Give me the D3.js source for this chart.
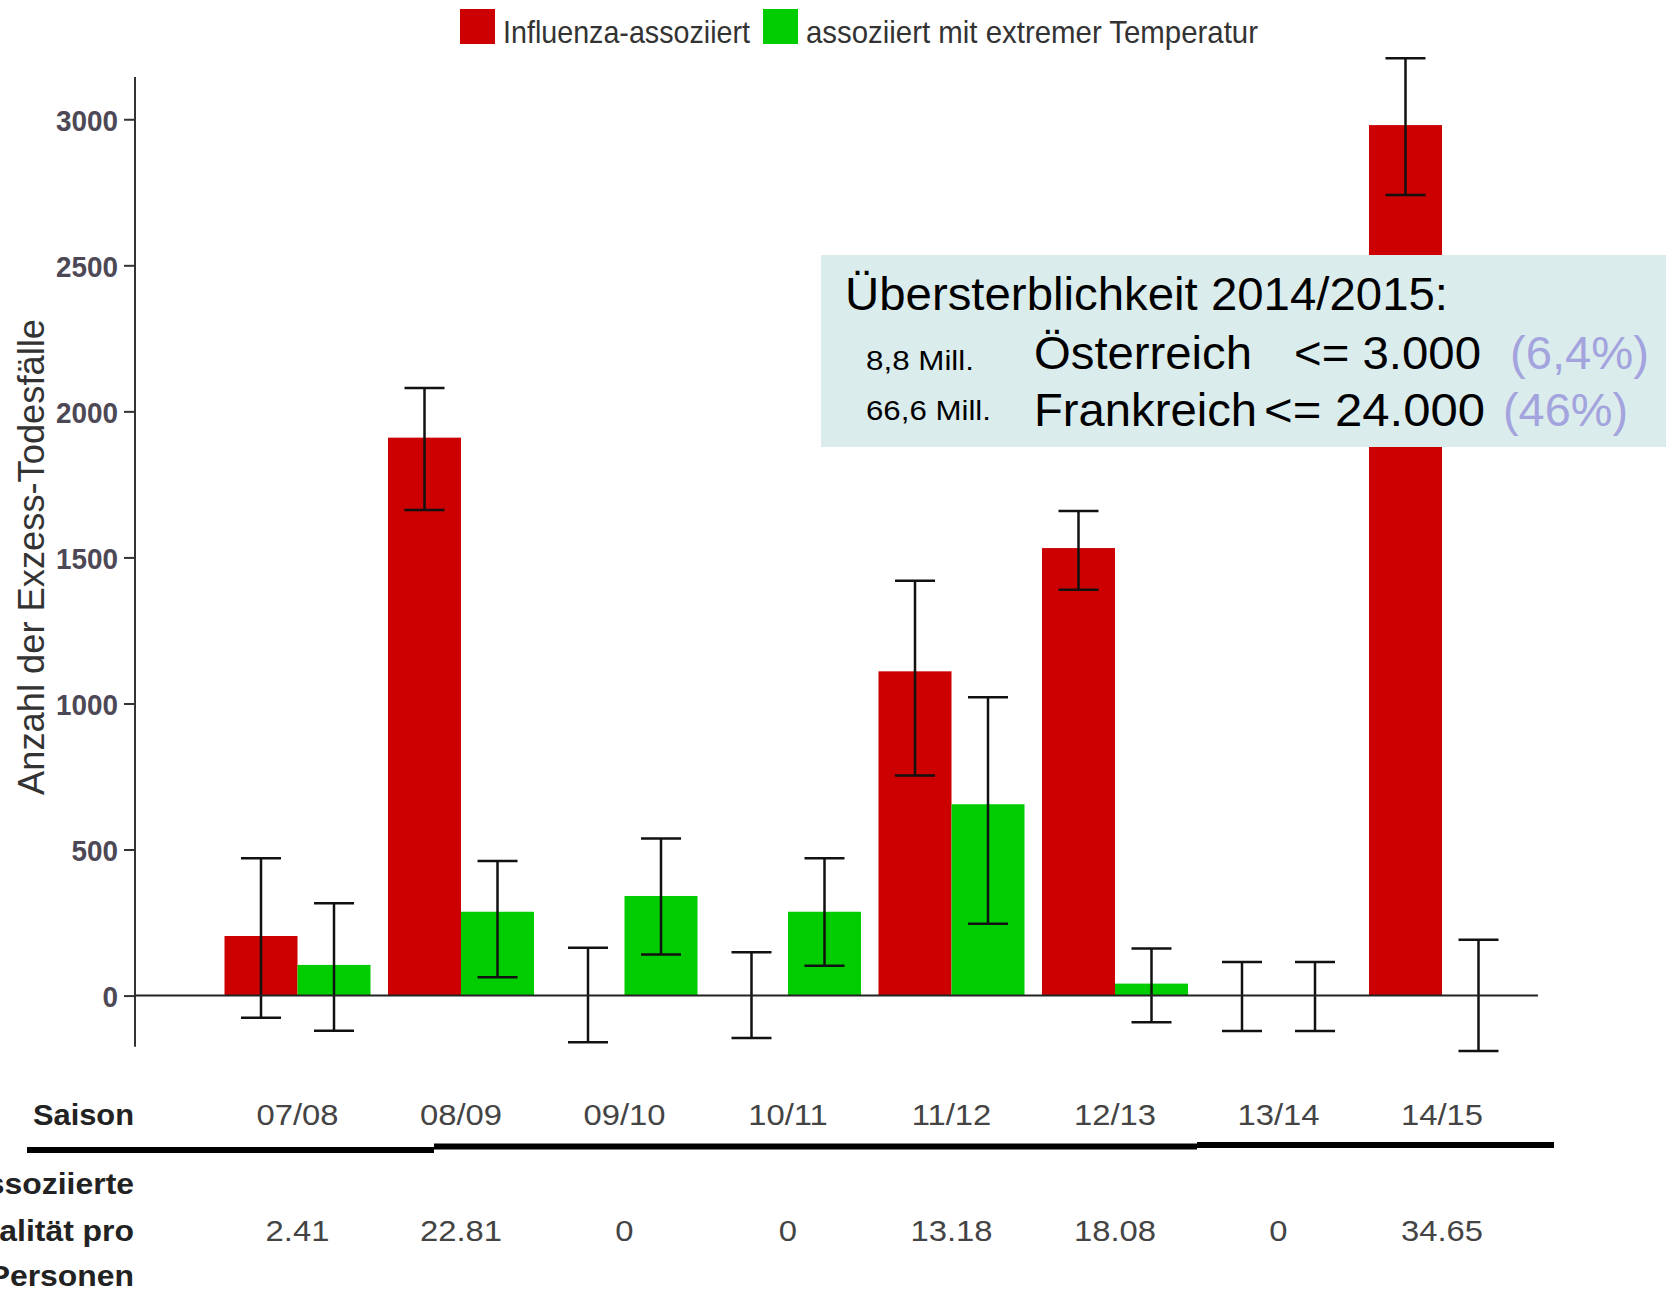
<!DOCTYPE html>
<html>
<head>
<meta charset="utf-8">
<script src="https://cdn.jsdelivr.net/npm/d3@7"></script>
<style>
  html, body { margin: 0; padding: 0; background: #fff; }
  svg { display: block; font-family: "Liberation Sans", Arial, sans-serif; }
</style>
</head>
<body>
<svg id="chart" width="1666" height="1292"></svg>
<script>
// ---------- data ----------
const seasons = ["07/08", "08/09", "09/10", "10/11", "11/12", "12/13", "13/14", "14/15"];
const influenza      = [204, 1910, 0, 0, 1110, 1532, 0, 2980];
const influenzaLow   = [-76, 1662, -160, -145, 753, 1389, -121, 2741];
const influenzaHigh  = [470, 2080, 164, 148, 1420, 1659, 115, 3209];
const temperature     = [105, 287, 341, 287, 655, 41, 0, 0];
const temperatureLow  = [-120, 63, 141, 102, 246, -91, -121, -190];
const temperatureHigh = [316, 461, 538, 470, 1021, 161, 115, 191];
const mortality = ["2.41", "22.81", "0", "0", "13.18", "18.08", "0", "34.65"];
const yTicks = [0, 500, 1000, 1500, 2000, 2500, 3000];
const seriesNames = ["Influenza-assoziiert", "assoziiert mit extremer Temperatur"];
const seriesKeys = ["flu", "temp"];
const rowLabels = ["Influenza-assoziierte", "Mortalität pro", "100.000 Personen"];

const colors = { flu: "#cc0000", temp: "#00cc00" };

const svg = d3.select("#chart");

// widen text glyphs by factor k (reference font is slightly wider than Liberation Sans)
function stretch(sel, k) {
  sel.each(function () {
    const w = this.getComputedTextLength();
    d3.select(this).attr("textLength", w * k).attr("lengthAdjust", "spacingAndGlyphs");
  });
}

// ---------- scales ----------
const x = d3.scaleBand().domain(seasons).range([224.5, 1515]).paddingInner(0.107).paddingOuter(0);
const xs = d3.scaleBand().domain(seriesKeys).range([0, x.bandwidth()]).padding(0);
const y = d3.scaleLinear().domain([-175, 3145]).range([1046.7, 76.9]);

const rows = seasons.map((s, i) => ({
  season: s,
  bars: [
    { key: "flu", v: influenza[i], lo: influenzaLow[i], hi: influenzaHigh[i] },
    { key: "temp", v: temperature[i], lo: temperatureLow[i], hi: temperatureHigh[i] }
  ]
}));

// ---------- y axis ----------
const yAxis = d3.axisLeft(y).tickValues(yTicks).tickSize(11).tickPadding(6).tickFormat(d3.format("d"));
const gy = svg.append("g").attr("transform", "translate(135,0)").call(yAxis);
gy.select(".domain").attr("stroke", "#333").attr("stroke-width", 2).attr("d", `M0,${y(-175)}V${y(3145)}`);
gy.selectAll(".tick line").attr("stroke", "#333").attr("stroke-width", 2);
gy.selectAll(".tick text")
  .attr("fill", "#4d4855").attr("font-size", 30).attr("font-weight", "bold")
  .attr("dy", "0.36em")
  .attr("textLength", d => String(d).length * 15.5).attr("lengthAdjust", "spacingAndGlyphs");

svg.append("text")
  .attr("transform", `translate(44,557) rotate(-90)`)
  .attr("text-anchor", "middle").attr("font-size", 36).attr("fill", "#333")
  .attr("textLength", 476).attr("lengthAdjust", "spacingAndGlyphs")
  .text("Anzahl der Exzess-Todesfälle");

// ---------- bars ----------
const groups = svg.append("g").selectAll("g").data(rows).join("g")
  .attr("transform", d => `translate(${x(d.season)},0)`);

groups.selectAll("rect").data(d => d.bars).join("rect")
  .attr("x", d => xs(d.key))
  .attr("width", xs.bandwidth())
  .attr("y", d => y(Math.max(0, d.v)))
  .attr("height", d => Math.abs(y(d.v) - y(0)))
  .attr("fill", d => colors[d.key]);

// zero line
svg.append("line")
  .attr("x1", 135).attr("x2", 1538).attr("y1", y(0)).attr("y2", y(0))
  .attr("stroke", "#222").attr("stroke-width", 2);

// error bars
const capHalf = 20;
const eb = groups.selectAll("g.err").data(d => d.bars).join("g").attr("class", "err")
  .attr("transform", d => `translate(${xs(d.key) + xs.bandwidth() / 2},0)`)
  .attr("stroke", "#111").attr("stroke-width", 2.5);
eb.append("line").attr("x1", 0).attr("x2", 0).attr("y1", d => y(d.lo)).attr("y2", d => y(d.hi));
eb.append("line").attr("x1", -capHalf).attr("x2", capHalf).attr("y1", d => y(d.lo)).attr("y2", d => y(d.lo));
eb.append("line").attr("x1", -capHalf).attr("x2", capHalf).attr("y1", d => y(d.hi)).attr("y2", d => y(d.hi));

// ---------- legend ----------
const legendX = [460, 763];
const legendTextLen = [247, 452];
const lg = svg.append("g").selectAll("g").data(seriesKeys).join("g")
  .attr("transform", (d, i) => `translate(${legendX[i]},0)`);
lg.append("rect").attr("x", 0).attr("y", 9).attr("width", 35).attr("height", 35).attr("fill", d => colors[d]);
lg.append("text").attr("x", 43).attr("y", 43).attr("font-size", 32).attr("fill", "#333")
  .attr("textLength", (d, i) => legendTextLen[i]).attr("lengthAdjust", "spacingAndGlyphs")
  .text((d, i) => seriesNames[i]);

// ---------- bottom table ----------
const center = s => x(s) + x.bandwidth() / 2;
svg.append("text").attr("x", 134).attr("y", 1125).attr("text-anchor", "end")
  .attr("font-size", 30).attr("font-weight", "bold").attr("fill", "#222")
  .attr("textLength", 101).attr("lengthAdjust", "spacingAndGlyphs").text("Saison");
const seasonText = svg.append("g").selectAll("text").data(seasons).join("text")
  .attr("x", d => center(d)).attr("y", 1125).attr("text-anchor", "middle")
  .attr("font-size", 29).attr("fill", "#444").text(d => d);
stretch(seasonText, 1.13);

// thick rule (slightly stepped as in the reference)
const rule = [[27, 434, 1150], [434, 1197, 1146.5], [1197, 1554, 1145]];
svg.append("g").selectAll("line").data(rule).join("line")
  .attr("x1", d => d[0]).attr("x2", d => d[1]).attr("y1", d => d[2]).attr("y2", d => d[2])
  .attr("stroke", "#000").attr("stroke-width", 6);

const rowY = [1194, 1241, 1286];
const rowText = svg.append("g").selectAll("text").data(rowLabels).join("text")
  .attr("x", 134).attr("y", (d, i) => rowY[i]).attr("text-anchor", "end")
  .attr("font-size", 29).attr("font-weight", "bold").attr("fill", "#222").text(d => d);
stretch(rowText, 1.1);

const valText = svg.append("g").selectAll("text").data(mortality).join("text")
  .attr("x", (d, i) => center(seasons[i])).attr("y", 1241).attr("text-anchor", "middle")
  .attr("font-size", 29).attr("fill", "#444").text(d => d);
stretch(valText, 1.13);

// ---------- annotation box ----------
const box = svg.append("g");
box.append("rect").attr("x", 821).attr("y", 255).attr("width", 845).attr("height", 192).attr("fill", "#dbeced");
const annot = [
  { t: "Übersterblichkeit 2014/2015:", x: 845, y: 310, fs: 46, len: 603, fill: "#000" },
  { t: "8,8 Mill.", x: 866, y: 370, fs: 27, len: 108, fill: "#000" },
  { t: "Österreich", x: 1034, y: 369, fs: 46, len: 218, fill: "#000" },
  { t: "<= 3.000", x: 1294, y: 369, fs: 46, len: 187, fill: "#000" },
  { t: "(6,4%)", x: 1510, y: 369, fs: 46, len: 139, fill: "#a3a3dd" },
  { t: "66,6 Mill.", x: 866, y: 420, fs: 27, len: 125, fill: "#000" },
  { t: "Frankreich", x: 1034, y: 426, fs: 46, len: 223, fill: "#000" },
  { t: "<= 24.000", x: 1264, y: 426, fs: 46, len: 221, fill: "#000" },
  { t: "(46%)", x: 1503, y: 426, fs: 46, len: 125, fill: "#a3a3dd" }
];
box.selectAll("text").data(annot).join("text")
  .attr("x", d => d.x).attr("y", d => d.y).attr("font-size", d => d.fs).attr("fill", d => d.fill)
  .attr("textLength", d => d.len).attr("lengthAdjust", "spacingAndGlyphs")
  .text(d => d.t);
</script>
</body>
</html>
